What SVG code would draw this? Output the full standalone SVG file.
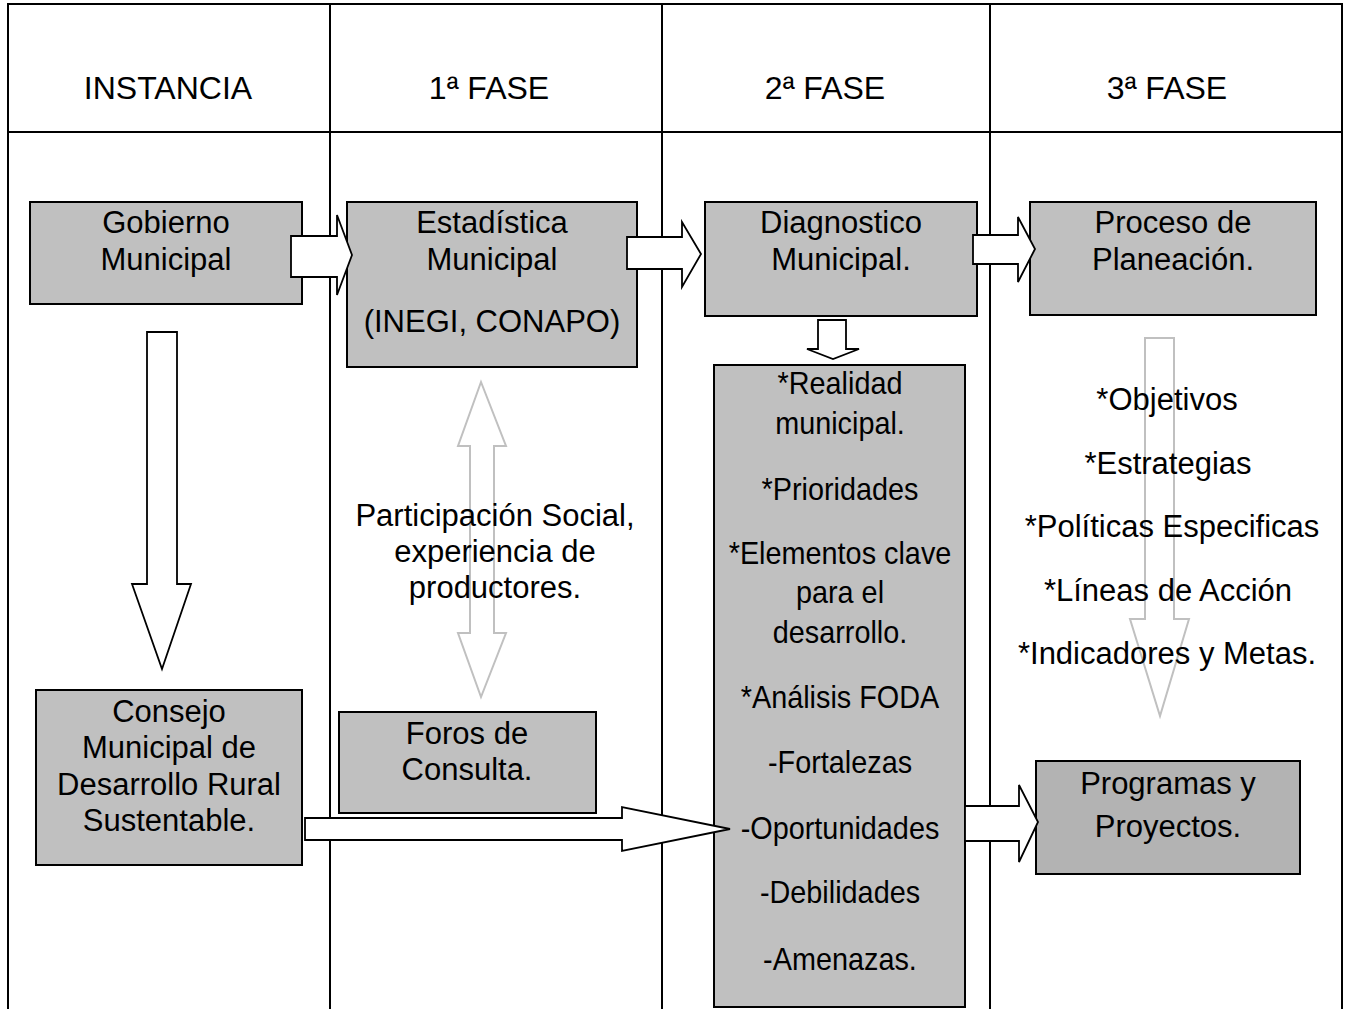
<svg xmlns="http://www.w3.org/2000/svg" width="1348" height="1009" viewBox="0 0 1348 1009">
<style>
  text { font-family: "Liberation Sans", Arial, sans-serif; font-size: 31px; fill: #000; text-anchor: middle; }
  .hdr { font-size: 32px; }
  .grid { stroke: #000; stroke-width: 2; fill: none; }
  .box { fill: #c0c0c0; stroke: #000; stroke-width: 2; }
  .box2 { fill: #b3b3b3; stroke: #000; stroke-width: 2; }
  .barrow { fill: #fff; stroke: #000; stroke-width: 1.8; stroke-linejoin: miter; }
  .garrow { fill: #fff; stroke: #c0c0c0; stroke-width: 2; }
</style>
<rect width="1348" height="1009" fill="#fff"/>
<g id="table">
  <path class="grid" d="M8 1009 V4 H1342 V1009 M330 4 V1009 M662 4 V1009 M990 4 V1009 M8 132 H1342"/>
  <text class="hdr" x="168" y="99">INSTANCIA</text>
  <text class="hdr" x="489" y="99">1ª FASE</text>
  <text class="hdr" x="825" y="99">2ª FASE</text>
  <text class="hdr" x="1167" y="99">3ª FASE</text>
</g>
<g id="gray-arrows">
  <polygon class="garrow" points="481,382 506,446 494,446 494,633 506,633 481,697 458,633 470,633 470,446 458,446"/>
  <polygon class="garrow" points="1145,338 1174,338 1174,619 1189,619 1160,716 1130,619 1145,619"/>
</g>
<g id="gobierno">
  <rect class="box" x="30" y="202" width="272" height="102"/>
  <text x="166" y="233">Gobierno</text>
  <text x="166" y="270">Municipal</text>
</g>
<g id="estadistica">
  <rect class="box" x="347" y="202" width="290" height="165"/>
  <text x="492" y="233">Estadística</text>
  <text x="492" y="270">Municipal</text>
  <text x="492" y="332">(INEGI, CONAPO)</text>
</g>
<g id="diagnostico">
  <rect class="box" x="705" y="202" width="272" height="114"/>
  <text x="841" y="233">Diagnostico</text>
  <text x="841" y="270">Municipal.</text>
</g>
<g id="proceso">
  <rect class="box" x="1030" y="202" width="286" height="113"/>
  <text x="1173" y="233">Proceso de</text>
  <text x="1173" y="270">Planeación.</text>
</g>
<g id="realidad">
  <rect class="box" x="714" y="365" width="251" height="642"/>
  <g transform="translate(840,0) scale(0.93,1)">
    <text x="0" y="394">*Realidad</text>
    <text x="0" y="434">municipal.</text>
    <text x="0" y="500">*Prioridades</text>
    <text x="0" y="564">*Elementos clave</text>
    <text x="0" y="603">para el</text>
    <text x="0" y="643">desarrollo.</text>
    <text x="0" y="708">*Análisis FODA</text>
    <text x="0" y="773">-Fortalezas</text>
    <text x="0" y="839">-Oportunidades</text>
    <text x="0" y="903">-Debilidades</text>
    <text x="0" y="970">-Amenazas.</text>
  </g>
</g>
<g id="participacion">
  <text x="495" y="526">Participación Social,</text>
  <text x="495" y="562">experiencia de</text>
  <text x="495" y="598">productores.</text>
</g>
<g id="planeacion-items">
  <text x="1167" y="410">*Objetivos</text>
  <text x="1168" y="474">*Estrategias</text>
  <text x="1172" y="537">*Políticas Especificas</text>
  <text x="1168" y="601">*Líneas de Acción</text>
  <text x="1167" y="664">*Indicadores y Metas.</text>
</g>
<g id="consejo">
  <rect class="box" x="36" y="690" width="266" height="175"/>
  <text x="169" y="722">Consejo</text>
  <text x="169" y="758">Municipal de</text>
  <text x="169" y="795">Desarrollo Rural</text>
  <text x="169" y="831">Sustentable.</text>
</g>
<g id="foros">
  <rect class="box" x="339" y="712" width="257" height="101"/>
  <text x="467" y="744">Foros de</text>
  <text x="467" y="780">Consulta.</text>
</g>
<g id="programas">
  <rect class="box2" x="1036" y="761" width="264" height="113"/>
  <text x="1168" y="794">Programas y</text>
  <text x="1168" y="837">Proyectos.</text>
</g>
<g id="connectors">
  <polygon class="barrow" points="291,236 337,236 337,215 352,255 337,295 337,277 291,277"/>
  <polygon class="barrow" points="627,237 682,237 682,222 701,254 682,287 682,269 627,269"/>
  <polygon class="barrow" points="973,235 1018,235 1018,217 1035,249 1018,282 1018,264 973,264"/>
  <polygon class="barrow" points="818,320 846,320 846,349 859,349 833,359 807,349 818,349"/>
  <polygon class="barrow" points="147,332 177,332 177,584 191,584 162,669 132,584 147,584"/>
  <polygon class="barrow" points="305,818 622,818 622,807 730,829 622,851 622,840 305,840"/>
  <polygon class="barrow" points="965,806 1019,806 1019,785 1038,822 1019,862 1019,841 965,841"/>
</g>
</svg>
